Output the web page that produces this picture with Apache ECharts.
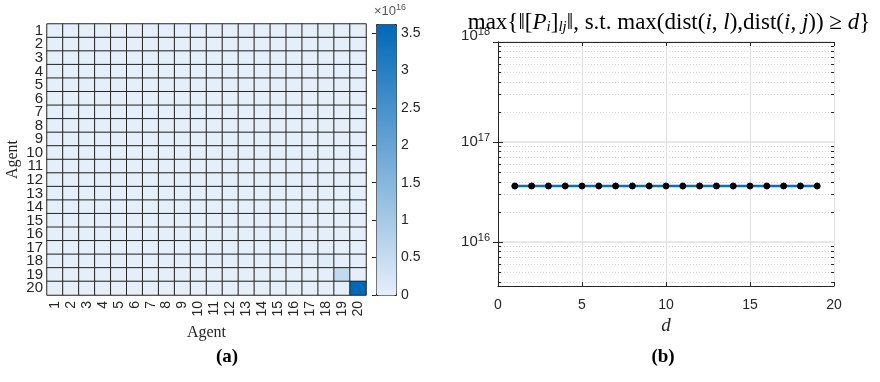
<!DOCTYPE html>
<html>
<head>
<meta charset="utf-8">
<script src="https://cdn.jsdelivr.net/npm/echarts@6/dist/echarts.min.js"></script>
<style>
  html, body { margin: 0; padding: 0; background: #fff; }
  #main { width: 880px; height: 382px; }
</style>
</head>
<body>
<div id="main"></div>
<script>
// agents 1..20
const agents = ['1','2','3','4','5','6','7','8','9','10','11','12','13','14','15','16','17','18','19','20']
// background level of ||[P_i]_lj|| in the heatmap (near zero)
const cellBase = 0.01e16
// cells that stand out [col, row, value]
const cellPeaks = [[17, 17, 0.08e16], [18, 18, 0.55e16], [19, 19, 3.62e16]]
const colorMax = 3.62e16
const colorTicks = [0, 0.5, 1, 1.5, 2, 2.5, 3, 3.5]

// right plot
const dValues = [1,2,3,4,5,6,7,8,9,10,11,12,13,14,15,16,17,18,19]
const maxNorm = [3.63e16,3.63e16,3.63e16,3.63e16,3.63e16,3.63e16,3.63e16,3.63e16,3.63e16,3.63e16,3.63e16,3.63e16,3.63e16,3.63e16,3.63e16,3.63e16,3.63e16,3.63e16,3.63e16]
const logMajor = [1e16, 1e17, 1e18]
const logMinor = [4e15,5e15,6e15,7e15,8e15,9e15,2e16,3e16,4e16,5e16,6e16,7e16,8e16,9e16,2e17,3e17,4e17,5e17,6e17,7e17,8e17,9e17]
const logMin = 3.63e15
const logMax = 1.0005e18

const heatData = []
for (let r = 0; r < agents.length; r++) {
  for (let c = 0; c < agents.length; c++) heatData.push([c, r, cellBase])
}
cellPeaks.forEach(p => { heatData[p[1] * agents.length + p[0]][2] = p[2] })

const sans = 'Liberation Sans'
const serif = 'Liberation Serif'
const axisCol = '#262626'

const myChart = echarts.init(document.getElementById('main'))
const supRich = {
  b: { fontFamily: sans, fontSize: 15, color: axisCol },
  s: { fontFamily: sans, fontSize: 11, color: axisCol, verticalAlign: 'bottom', padding: [0, 0, 9, 0] },
  tb: { fontFamily: sans, fontSize: 15, color: axisCol, padding: [0, 0, 12, 0] },
  ts: { fontFamily: sans, fontSize: 11, color: axisCol, verticalAlign: 'bottom', padding: [0, 0, 21, 0] },
}

myChart.setOption({
  animation: false,
  title: [
    {
      text: '{r|max{‖[}{i|P}{sub|i}{r|]}{sub|lj}{r|‖, s.t. max(dist(}{i|i}{r|, }{i|l}{r|),dist(}{i|i}{r|, }{i|j}{r|)) ≥ }{i|d}}',
      left: 664, top: 5, textAlign: 'center',
      textStyle: {
        fontFamily: serif, fontSize: 23, fontWeight: 'normal', color: '#000',
        rich: {
          r: { fontFamily: serif, fontSize: 23, color: '#000' },
          i: { fontFamily: serif, fontSize: 23, fontStyle: 'italic', color: '#000' },
          sub: { fontFamily: serif, fontSize: 15, fontStyle: 'italic', color: '#000', verticalAlign: 'top', padding: [10, 0, 0, 0] },
        },
      },
    },
    { text: '(a)', left: 222, top: 343, textAlign: 'center', textStyle: { fontFamily: serif, fontSize: 19, fontWeight: 'bold', color: '#000' } },
    { text: '(b)', left: 658, top: 343, textAlign: 'center', textStyle: { fontFamily: serif, fontSize: 19, fontWeight: 'bold', color: '#000' } },
  ],
  grid: [
    { left: 47, top: 24, width: 319, height: 271 },   // heatmap
    { left: 376, top: 24, width: 20, height: 271 },   // colorbar ticks
    { left: 498, top: 42, width: 336, height: 244 },  // log plot
  ],
  visualMap: {
    type: 'continuous',
    seriesIndex: 0,
    min: 0,
    max: colorMax,
    orient: 'vertical',
    left: 376, top: 24,
    itemWidth: 20, itemHeight: 271,
    padding: 0,
    calculable: false,
    hoverLink: false,
    text: null,
    borderColor: axisCol,
    borderWidth: 1,
    inRange: { color: ['#e5eff9', '#0068b7'] },
  },
  xAxis: [
    {
      gridIndex: 0, type: 'category', data: agents, position: 'bottom',
      axisLine: { show: false }, axisTick: { show: false }, splitLine: { show: false },
      axisLabel: { rotate: 90, interval: 0, margin: 6, fontFamily: sans, fontSize: 14, color: axisCol },
      name: 'Agent', nameLocation: 'middle', nameGap: 21,
      nameTextStyle: { fontFamily: serif, fontSize: 16, color: axisCol },
    },
    { gridIndex: 1, type: 'value', show: false, min: 0, max: 1 },
    {
      gridIndex: 2, type: 'value', min: 0, max: 20, interval: 5, position: 'bottom',
      axisLine: { lineStyle: { color: axisCol, width: 1 } },
      axisTick: { inside: true, length: 4, lineStyle: { color: axisCol } },
      axisLabel: { margin: 12, fontFamily: sans, fontSize: 14, color: axisCol },
      splitLine: { show: true, lineStyle: { color: '#e0e0e0', width: 1 } },
      name: 'd', nameLocation: 'middle', nameGap: 26,
      nameTextStyle: { fontFamily: serif, fontSize: 19, fontStyle: 'italic', color: axisCol },
    },
    {
      gridIndex: 2, type: 'value', min: 0, max: 20, interval: 5, position: 'top',
      axisLine: { lineStyle: { color: axisCol, width: 1 } },
      axisTick: { inside: true, length: 4, lineStyle: { color: axisCol } },
      axisLabel: { show: false }, splitLine: { show: false },
    },
  ],
  yAxis: [
    {
      gridIndex: 0, type: 'category', data: agents, inverse: true, position: 'left',
      axisLine: { show: false }, axisTick: { show: false }, splitLine: { show: false },
      axisLabel: { interval: 0, margin: 4, fontFamily: sans, fontSize: 15, color: axisCol, lineHeight: 13 },
      name: 'Agent', nameLocation: 'middle', nameGap: 26,
      nameTextStyle: { fontFamily: serif, fontSize: 16, color: axisCol },
    },
    {
      gridIndex: 1, type: 'value', position: 'right', min: 0, max: colorMax / 1e16,
      axisLine: { show: false },
      axisTick: { inside: true, length: 4, lineStyle: { color: axisCol }, customValues: colorTicks },
      axisLabel: { margin: 5, fontFamily: sans, fontSize: 14, color: axisCol, customValues: colorTicks },
      splitLine: { show: false },
      name: '{x|×10}{s|16}', nameLocation: 'end', nameGap: 4,
      nameTextStyle: {
        align: 'left', padding: [0, 0, 0, -2],
        rich: {
          x: { fontFamily: sans, fontSize: 13, color: '#555' },
          s: { fontFamily: sans, fontSize: 9, color: '#555', verticalAlign: 'bottom', padding: [0, 0, 8, 0] },
        },
      },
    },
    {
      gridIndex: 2, type: 'log', min: logMin, max: logMax, position: 'left',
      axisLine: { lineStyle: { color: axisCol, width: 1 } },
      axisTick: { inside: true, length: 5, lineStyle: { color: axisCol }, customValues: logMajor },
      axisLabel: {
        margin: 8, customValues: logMajor, rich: supRich, showMaxLabel: true,
        formatter: v => {
          const e = Math.round(Math.log10(v))
          return e === 18 ? '{tb|10}{ts|' + e + '}' : '{b|10}{s|' + e + '}'
        },
      },
      splitLine: { show: true, lineStyle: { color: '#e0e0e0', width: 1.5 } },
    },
    {
      gridIndex: 2, type: 'log', min: logMin, max: logMax, position: 'right',
      axisLine: { lineStyle: { color: axisCol, width: 1 } },
      axisTick: { inside: true, length: 5, lineStyle: { color: axisCol }, customValues: logMajor },
      axisLabel: { show: false }, splitLine: { show: false },
    },
    {
      gridIndex: 2, type: 'log', min: logMin, max: logMax, position: 'left',
      axisLine: { show: false },
      axisTick: { inside: true, length: 3, lineStyle: { color: axisCol }, customValues: logMinor },
      axisLabel: { show: false },
      splitLine: { show: true, lineStyle: { color: '#d4d4d4', width: 1, type: [1, 2] } },
    },
    {
      gridIndex: 2, type: 'log', min: logMin, max: logMax, position: 'right',
      axisLine: { show: false },
      axisTick: { inside: true, length: 3, lineStyle: { color: axisCol }, customValues: logMinor },
      axisLabel: { show: false }, splitLine: { show: false },
    },
  ],
  series: [
    {
      type: 'heatmap', xAxisIndex: 0, yAxisIndex: 0, data: heatData,
      itemStyle: { borderColor: axisCol, borderWidth: 1 },
      emphasis: { disabled: true },
    },
    {
      type: 'line', xAxisIndex: 2, yAxisIndex: 2,
      data: dValues.map((d, i) => [d, maxNorm[i]]),
      lineStyle: { color: '#0072BD', width: 2.5 },
      symbol: 'circle', symbolSize: 6,
      itemStyle: { color: '#000', borderColor: '#000' },
      z: 5,
    },
  ],
})
</script>
</body>
</html>
